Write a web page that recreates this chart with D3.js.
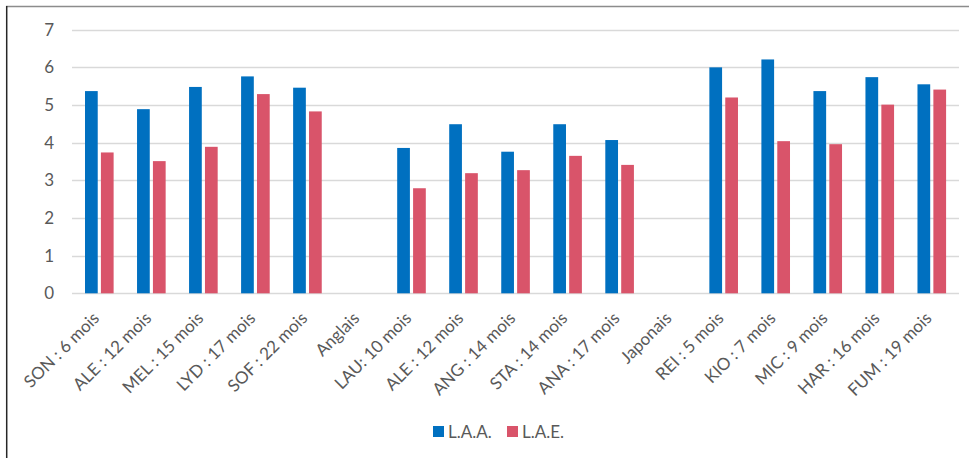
<!DOCTYPE html>
<html>
<head>
<meta charset="utf-8">
<script src="https://cdn.jsdelivr.net/npm/d3@7"></script>
<style>
  body { margin: 0; background: #fff; }
  text { font-family: Lato, "Open Sans", sans-serif; fill: #595959; }
</style>
</head>
<body>
<div id="chart"></div>
<script>
const categories = [
  "SON : 6 mois", "ALE : 12 mois", "MEL : 15 mois", "LYD : 17 mois", "SOF : 22 mois",
  "Anglais",
  "LAU: 10 mois", "ALE : 12 mois ", "ANG : 14 mois", "STA : 14 mois", "ANA : 17 mois",
  "Japonais",
  "REI : 5 mois", "KIO : 7 mois", "MIC : 9 mois", "HAR : 16 mois", "FUM : 19 mois"
];
const seriesNames = ["L.A.A.", "L.A.E."];
const laa = [5.37, 4.89, 5.48, 5.76, 5.46, null, 3.86, 4.49, 3.76, 4.49, 4.07, null, 6.0, 6.21, 5.37, 5.74, 5.55];
const lae = [3.74, 3.51, 3.89, 5.29, 4.83, null, 2.79, 3.19, 3.27, 3.65, 3.41, null, 5.2, 4.04, 3.96, 5.01, 5.41];
const yTicks = [0, 1, 2, 3, 4, 5, 6, 7];
const colors = ["#0070c0", "#d9546a"];

const width = 969, height = 458;
const plot = { left: 72, right: 959, top: 29.7, bottom: 293.3 };

const svg = d3.select("#chart").append("svg")
  .attr("width", width)
  .attr("height", height);

// outer frame: gray top edge, dark left edge
svg.append("line")
  .attr("x1", 6).attr("x2", width)
  .attr("y1", 6.5).attr("y2", 6.5)
  .attr("stroke", "#8c8c8c")
  .attr("stroke-width", 1.5);
svg.append("line")
  .attr("x1", 6.7).attr("x2", 6.7)
  .attr("y1", 6).attr("y2", height)
  .attr("stroke", "#262626")
  .attr("stroke-width", 1.5);

const x = d3.scaleBand()
  .domain(d3.range(categories.length))
  .range([73.3, 957.8])
  .paddingInner(0.45)
  .paddingOuter(0.225);

const x1 = d3.scaleBand()
  .domain(seriesNames)
  .range([0, x.bandwidth()])
  .paddingInner(0.2);

const y = d3.scaleLinear()
  .domain([0, 7])
  .range([plot.bottom, plot.top]);

// gridlines
svg.append("g")
  .selectAll("line")
  .data(yTicks)
  .enter().append("line")
  .attr("x1", plot.left)
  .attr("x2", plot.right)
  .attr("y1", d => Math.round(y(d)) + 0.5)
  .attr("y2", d => Math.round(y(d)) + 0.5)
  .attr("stroke", "#d9d9d9")
  .attr("stroke-width", 1.5);

// y axis labels
const yAxis = svg.append("g")
  .attr("transform", "translate(" + plot.left + ",0)")
  .call(d3.axisLeft(y).tickValues(yTicks).tickSize(0).tickPadding(18).tickFormat(d3.format("d")));
yAxis.select(".domain").remove();
yAxis.selectAll("text")
  .style("font-size", "17px")
  .attr("fill", "#595959");

// bars
const rows = categories.map((c, i) => ({ i: i, values: [laa[i], lae[i]] }));
const groups = svg.append("g")
  .selectAll("g")
  .data(rows)
  .enter().append("g")
  .attr("transform", d => "translate(" + x(d.i) + ",0)");

groups.selectAll("rect")
  .data(d => d.values.map((v, k) => ({ key: seriesNames[k], v: v, k: k })).filter(e => e.v != null))
  .enter().append("rect")
  .attr("x", d => x1(d.key))
  .attr("y", d => y(d.v))
  .attr("width", x1.bandwidth())
  .attr("height", d => y(0) - y(d.v))
  .attr("fill", d => colors[d.k]);

// x labels, rotated
const xAxis = svg.append("g")
  .attr("transform", "translate(0," + plot.bottom + ")")
  .call(d3.axisBottom(x).tickSize(0).tickFormat(i => categories[i].trim()));
xAxis.select(".domain").remove();
xAxis.selectAll("text")
  .style("font-size", "17px")
  .attr("fill", "#595959")
  .style("text-anchor", "end")
  .attr("dy", null)
  .attr("y", 0)
  .attr("transform", "translate(1,26)rotate(-45)");

// legend
const legend = svg.append("g")
  .selectAll("g")
  .data(seriesNames)
  .enter().append("g")
  .attr("transform", (d, i) => "translate(" + (433 + i * 74) + ",426)");
legend.append("rect")
  .attr("width", 11)
  .attr("height", 11)
  .attr("fill", (d, i) => colors[i]);
legend.append("text")
  .attr("x", 15)
  .attr("y", 11.5)
  .style("font-size", "17px")
  .text(d => d);
</script>
</body>
</html>
